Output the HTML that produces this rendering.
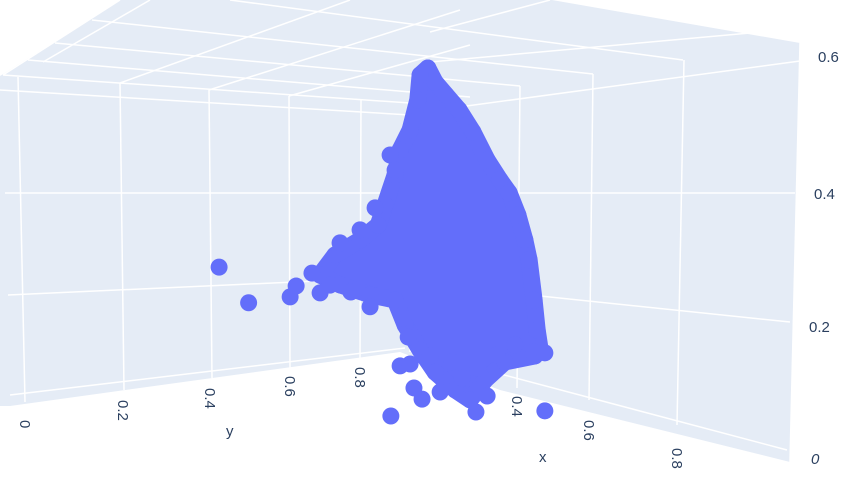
<!DOCTYPE html>
<html><head><meta charset="utf-8"><style>
html,body{margin:0;padding:0;background:#fff;}
svg{display:block;font-family:"Liberation Sans",sans-serif;}
.t{fill:#2a3f5f;font-size:15px;}
</style></head><body>
<svg id="chart" width="858" height="482" viewBox="0 0 858 482">
  <g>
    <polygon points="0,76 120,0 552,0 800,43 790,462 500,390 400,352 10,406 0,406" fill="#e5ecf6"/>
  </g>
  <g stroke="#fff" stroke-width="1.5" fill="none">
    <line x1="3" y1="75" x2="120" y2="0"/>
    <line x1="43" y1="62" x2="150" y2="0"/>
    <line x1="120" y1="83" x2="350" y2="0"/>
    <line x1="209" y1="90" x2="460" y2="10"/>
    <line x1="289" y1="96" x2="470" y2="45"/>
    <line x1="28" y1="60" x2="470" y2="97"/>
    <line x1="55" y1="43" x2="520" y2="86"/>
    <line x1="92" y1="20" x2="593" y2="74"/>
    <line x1="230" y1="0" x2="683" y2="60"/>
    <line x1="430" y1="32" x2="550" y2="0"/>
    <line x1="430" y1="62" x2="750" y2="33"/>
    <line x1="3" y1="75" x2="410" y2="103"/>
    <line x1="0" y1="90" x2="410" y2="115"/>
    <line x1="5" y1="193" x2="415" y2="193"/>
    <line x1="8" y1="295" x2="405" y2="277"/>
    <line x1="10" y1="395" x2="405" y2="348"/>
    <line x1="18" y1="77" x2="25" y2="402"/>
    <line x1="120" y1="83" x2="124" y2="390"/>
    <line x1="209" y1="90" x2="212" y2="378"/>
    <line x1="289" y1="96" x2="290" y2="368"/>
    <line x1="361" y1="100" x2="360" y2="360"/>
    <line x1="410" y1="103" x2="410" y2="352"/>
    <line x1="415" y1="113" x2="800" y2="61"/>
    <line x1="415" y1="193" x2="795" y2="193"/>
    <line x1="415" y1="283" x2="790" y2="322"/>
    <line x1="410" y1="350" x2="787" y2="450"/>
    <line x1="520" y1="86" x2="517" y2="388"/>
    <line x1="593" y1="74" x2="589" y2="400"/>
    <line x1="684" y1="60" x2="677" y2="425"/>
    <line x1="800" y1="43" x2="790" y2="462"/>
  </g>
  <g id="marks"></g>
  <g>
    <text class="t" x="818" y="62">0.6</text>
    <text class="t" x="814" y="199">0.4</text>
    <text class="t" x="809" y="332">0.2</text>
    <text class="t" x="811" y="464" font-style="italic">0</text>
  </g>
  <g>
    <text class="t" transform="translate(20,420) rotate(90)">0</text>
    <text class="t" transform="translate(118,400) rotate(90)">0.2</text>
    <text class="t" transform="translate(205,388) rotate(90)">0.4</text>
    <text class="t" transform="translate(285,376) rotate(90)">0.6</text>
    <text class="t" transform="translate(355,367) rotate(90)">0.8</text>
    <text class="t" x="226" y="436" font-size="17">y</text>
  </g>
  <g>
    <text class="t" transform="translate(512,396) rotate(90)">0.4</text>
    <text class="t" transform="translate(584,420) rotate(90)">0.6</text>
    <text class="t" transform="translate(672,448) rotate(90)">0.8</text>
    <text class="t" x="539" y="462" font-size="17">x</text>
  </g>
</svg>
<script>
// Dense envelope of the point cloud (x, y, z data values)
const envX = [0.332,0.351,0.379,0.413,0.449,0.486,0.519,0.543,0.566,0.584,0.595,0.608,0.616,0.623,0.610,0.532,0.481,0.442,0.403,0.351,0.312,0.273,0.247,0.182,0.104,0.052,0.091,0.156,0.203,0.221,0.247,0.260,0.286,0.306,0.312];
const envY = [1,1,1,1,1,1,1,1,1,1,1,1,1,1,1,1,1,1,1,1,1,1,1,1,1,1,1,1,1,1,1,1,1,1,1];
const envZ = [0.923,0.893,0.869,0.841,0.796,0.736,0.696,0.670,0.621,0.564,0.517,0.420,0.347,0.305,0.281,0.244,0.185,0.124,0.138,0.168,0.212,0.264,0.319,0.314,0.317,0.327,0.388,0.444,0.494,0.550,0.632,0.698,0.755,0.836,0.900];
// Individual points
const ptX = [0.1,0.1,0.1,0.1,0.1,0.1,0.1,0.104,0.132,0.156,0.182,0.195,0.234,0.247,0.268,0.281,0.260,0.286,0.296,0.317,0.364,0.236,0.636,0.457,0.486,0.421,0.462,0.512,0.558,0.608,0.636,0.338,0.395];
const ptY = [0.721,0.790,0.887,0.901,0.938,0.957,0.980,1,1,1,1,1,1,1,1,1,1,1,1,1,1,1,1,1,1,1,1,1,1,1,1,1,1];
const ptZ = [0.400,0.301,0.302,0.327,0.354,0.302,0.318,0.422,0.307,0.469,0.284,0.535,0.678,0.644,0.280,0.236,0.158,0.170,0.113,0.091,0.122,0.026,0.151,0.098,0.146,0.173,0.209,0.256,0.294,0.290,0.296,0.205,0.206];

function projU(x,y,z){ return 300 + 385*x - 428*(1-y); }
function projV(x,y,z){ return 400 + 112*x + 57*(1-y) - 400*z; }

const NS = "http://www.w3.org/2000/svg";
const g = document.getElementById('marks');
const COL = '#636efa';

const env = document.createElementNS(NS,'polygon');


let pts = [];
for (let i=0;i<envX.length;i++) pts.push(projU(envX[i],envY[i],envZ[i]).toFixed(1)+','+projV(envX[i],envY[i],envZ[i]).toFixed(1));
env.setAttribute('points', pts.join(' '));
env.setAttribute('fill', COL);
env.setAttribute('stroke', COL);
env.setAttribute('stroke-width', '17');
env.setAttribute('stroke-linejoin', 'round');
g.appendChild(env);

for (let i=0;i<envX.length;i++){
  const c = document.createElementNS(NS,'circle');
  
  
  c.setAttribute('cx', projU(envX[i],envY[i],envZ[i]));
  c.setAttribute('cy', projV(envX[i],envY[i],envZ[i]));
  c.setAttribute('r', 8.5);
  c.setAttribute('fill', COL);
  g.appendChild(c);
}
for (let i=0;i<ptX.length;i++){
  const c = document.createElementNS(NS,'circle');
  
  
  c.setAttribute('cx', projU(ptX[i],ptY[i],ptZ[i]));
  c.setAttribute('cy', projV(ptX[i],ptY[i],ptZ[i]));
  c.setAttribute('r', 8.5);
  c.setAttribute('fill', COL);
  g.appendChild(c);
}
</script>
</body></html>
